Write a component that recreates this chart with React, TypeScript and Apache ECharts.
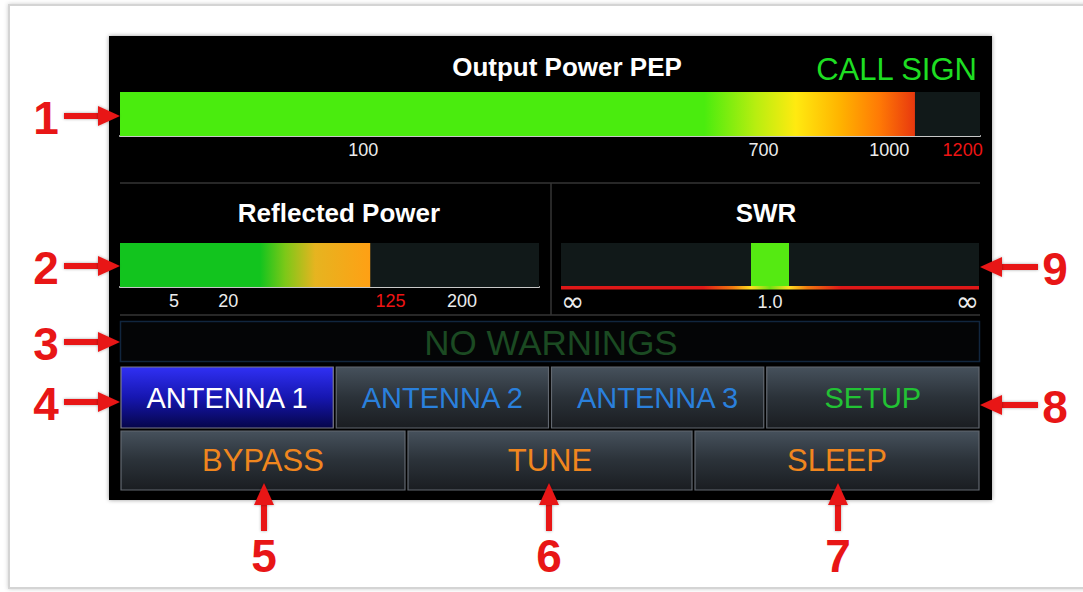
import React, { useEffect, useRef } from "react";
import * as echarts from "echarts";

// ---- data ----
const outputPowerTicks = [100, 700, 1000, 1200];
const outputPowerWarnTick = 1200;
const outputPowerMax = 1250;
const outputPower = [1068];

const reflectedTicks = [5, 20, 125, 200];
const reflectedWarnTick = 125;
const reflectedMax = 300;
const reflectedPower = [107];

const swrValue = [1.2];
const swrTickLabels = ["∞", "1.0", "∞"];

const antennaButtons = ["ANTENNA 1", "ANTENNA 2", "ANTENNA 3", "SETUP"];
const antennaColors = ["#ffffff", "#2a80dc", "#2a80dc", "#22c234"];
const actionButtons = ["BYPASS", "TUNE", "SLEEP"];
const leftCallouts = ["1", "2", "3", "4"];
const rightCallouts = ["9", "8"];
const bottomCallouts = ["5", "6", "7"];

const FONT = "Arial, 'Liberation Sans', sans-serif";
const RED = "#e81616";

function lg(stops: [number, string][]) {
  return new echarts.graphic.LinearGradient(
    0, 0, 1, 0,
    stops.map(([offset, color]) => ({ offset, color }))
  );
}
function vg(stops: [number, string][]) {
  return new echarts.graphic.LinearGradient(
    0, 0, 0, 1,
    stops.map(([offset, color]) => ({ offset, color }))
  );
}

function arrow(dir: "right" | "left" | "up", tx: number, ty: number, len: number): any[] {
  const head = 22, hw = 10, sw = 6;
  const sh = { shadowBlur: 3, shadowColor: "rgba(0,0,0,0.35)" };
  if (dir === "right") {
    return [
      { type: "rect", z: 50, shape: { x: tx - len, y: ty - sw / 2, width: len - head + 2, height: sw }, style: { fill: RED, ...sh } },
      { type: "polygon", z: 51, shape: { points: [[tx, ty], [tx - head, ty - hw], [tx - head, ty + hw]] }, style: { fill: RED, ...sh } },
    ];
  }
  if (dir === "left") {
    return [
      { type: "rect", z: 50, shape: { x: tx + head - 2, y: ty - sw / 2, width: len - head + 2, height: sw }, style: { fill: RED, ...sh } },
      { type: "polygon", z: 51, shape: { points: [[tx, ty], [tx + head, ty - hw], [tx + head, ty + hw]] }, style: { fill: RED, ...sh } },
    ];
  }
  return [
    { type: "rect", z: 50, shape: { x: tx - sw / 2, y: ty + head - 2, width: sw, height: len - head + 2 }, style: { fill: RED, ...sh } },
    { type: "polygon", z: 51, shape: { points: [[tx, ty], [tx - hw, ty + head], [tx + hw, ty + head]] }, style: { fill: RED, ...sh } },
  ];
}

function num(t: string, x: number, y: number): any {
  return {
    type: "text", z: 52,
    style: {
      text: t, x, y, fill: RED, fontFamily: FONT, fontWeight: "bold", fontSize: 46,
      align: "center", verticalAlign: "middle", shadowBlur: 3, shadowColor: "rgba(0,0,0,0.35)",
    },
  };
}

export default function App() {
  const ref = useRef<HTMLDivElement>(null);

  useEffect(() => {
    if (!ref.current) return;
    const chart = echarts.init(ref.current, undefined, { renderer: "svg" });

    const gamma = swrValue.map((s) => (s - 1) / (s + 1));

    const graphics: any[] = [];
    // outer frame
    graphics.push({
      type: "rect", z: -20,
      shape: { x: 9, y: 5, width: 1090, height: 583 },
      style: { fill: "#ffffff", stroke: "#d4d4d4", lineWidth: 2, shadowBlur: 4, shadowColor: "rgba(0,0,0,0.2)" },
    });
    // black panel
    graphics.push({
      type: "rect", z: -10,
      shape: { x: 109, y: 36, width: 883, height: 464 },
      style: { fill: "#050505", shadowBlur: 4, shadowColor: "rgba(0,0,0,0.4)" },
    });
    // separators
    const sep = { stroke: "#353535", lineWidth: 1.5 };
    graphics.push({ type: "line", z: -5, shape: { x1: 120, y1: 183, x2: 980, y2: 183 }, style: sep });
    graphics.push({ type: "line", z: -5, shape: { x1: 120, y1: 315, x2: 980, y2: 315 }, style: sep });
    graphics.push({ type: "line", z: -5, shape: { x1: 551, y1: 183, x2: 551, y2: 315 }, style: sep });

    // titles
    const title = (t: string, x: number, y: number) => ({
      type: "text", z: 20,
      style: { text: t, x, y, fill: "#ffffff", fontFamily: FONT, fontWeight: "bold", fontSize: 26, align: "center", verticalAlign: "middle" },
    });
    graphics.push(title("Output Power PEP", 567, 67));
    graphics.push(title("Reflected Power", 339, 213));
    graphics.push(title("SWR", 766, 213));
    graphics.push({
      type: "text", z: 20,
      style: { text: "CALL SIGN", x: 977, y: 69, fill: "#1ede22", fontFamily: FONT, fontSize: 31, align: "right", verticalAlign: "middle" },
    });

    // SWR red baseline
    graphics.push({
      type: "rect", z: 5,
      shape: { x: 561, y: 286, width: 418, height: 3.5 },
      style: {
        fill: lg([
          [0, "#e01818"], [0.34, "#e01818"], [0.41, "#f07810"], [0.455, "#ffe020"],
          [0.5, "#6ee012"], [0.545, "#ffe020"], [0.59, "#f07810"], [0.67, "#e01818"], [1, "#e01818"],
        ]),
      },
    });

    // warnings box
    graphics.push({
      type: "rect", z: 5,
      shape: { x: 120.5, y: 321.5, width: 859, height: 40 },
      style: { fill: "#040506", stroke: "#11263e", lineWidth: 1.5 },
    });
    graphics.push({
      type: "text", z: 20,
      style: { text: "NO WARNINGS", x: 551, y: 342, fill: "#1b4a22", fontFamily: FONT, fontSize: 35, align: "center", verticalAlign: "middle" },
    });

    // buttons row 1
    const r1w = (858 - 3 * 3) / 4;
    antennaButtons.forEach((t, i) => {
      const x = 121 + i * (r1w + 3);
      const active = i === 0;
      graphics.push({
        type: "rect", z: 5,
        shape: { x, y: 367, width: r1w, height: 61 },
        style: {
          fill: active
            ? vg([[0, "#3030f4"], [0.5, "#1616b0"], [1, "#05054a"]])
            : vg([[0, "#46515c"], [0.5, "#2b3239"], [1, "#1a1d21"]]),
          stroke: active ? "#7d7d8a" : "#626870",
          lineWidth: 1.2,
        },
      });
      graphics.push({
        type: "text", z: 20,
        style: { text: t, x: x + r1w / 2, y: 398, fill: antennaColors[i], fontFamily: FONT, fontSize: 29, align: "center", verticalAlign: "middle" },
      });
    });
    // buttons row 2
    const r2w = (858 - 2 * 3) / 3;
    actionButtons.forEach((t, i) => {
      const x = 121 + i * (r2w + 3);
      graphics.push({
        type: "rect", z: 5,
        shape: { x, y: 431, width: r2w, height: 59 },
        style: { fill: vg([[0, "#46515c"], [0.5, "#2b3239"], [1, "#1a1d21"]]), stroke: "#626870", lineWidth: 1.2 },
      });
      graphics.push({
        type: "text", z: 20,
        style: { text: t, x: x + r2w / 2, y: 460, fill: "#f0861e", fontFamily: FONT, fontSize: 31, align: "center", verticalAlign: "middle" },
      });
    });

    // callouts
    const leftY = [116, 266, 342, 402];
    leftCallouts.forEach((n, i) => {
      graphics.push(...arrow("right", 120, leftY[i], 56));
      graphics.push(num(n, 46, leftY[i] + 2));
    });
    const rightY = [267, 405];
    rightCallouts.forEach((n, i) => {
      graphics.push(...arrow("left", 980, rightY[i], 58));
      graphics.push(num(n, 1055, rightY[i] + 2));
    });
    const bottomX = [264, 549, 838];
    bottomCallouts.forEach((n, i) => {
      graphics.push(...arrow("up", bottomX[i], 483, 48));
      graphics.push(num(n, bottomX[i], 556));
    });

    const labelBase = { fontFamily: FONT, fontSize: 18, margin: 5 };

    const option: any = {
      animation: false,
      backgroundColor: "#ffffff",
      grid: [
        { left: 120, top: 92, width: 860, height: 44 },
        { left: 120, top: 243, width: 419, height: 44 },
        { left: 561, top: 243, width: 418, height: 44 },
      ],
      xAxis: [
        {
          gridIndex: 0, type: "value", min: 0, max: Math.sqrt(outputPowerMax),
          axisLine: { show: true, lineStyle: { color: "#c8c8c8", width: 2 } },
          axisTick: { show: false }, splitLine: { show: false },
          axisLabel: {
            ...labelBase,
            customValues: outputPowerTicks.map((v) => Math.sqrt(v)),
            formatter: (v: number) => String(Math.round(v * v)),
            color: (v: any) => (Math.round(Number(v) * Number(v)) === outputPowerWarnTick ? "#ee1414" : "#ececec"),
          },
        },
        {
          gridIndex: 1, type: "value", min: 0, max: Math.sqrt(reflectedMax),
          axisLine: { show: true, lineStyle: { color: "#c8c8c8", width: 2 } },
          axisTick: { show: false }, splitLine: { show: false },
          axisLabel: {
            ...labelBase,
            customValues: reflectedTicks.map((v) => Math.sqrt(v)),
            formatter: (v: number) => String(Math.round(v * v)),
            color: (v: any) => (Math.round(Number(v) * Number(v)) === reflectedWarnTick ? "#ee1414" : "#ececec"),
          },
        },
        {
          gridIndex: 2, type: "value", min: -1, max: 1,
          axisLine: { show: false }, axisTick: { show: false }, splitLine: { show: false },
          axisLabel: {
            ...labelBase,
            margin: 6,
            color: "#ececec",
            customValues: [-1, 0, 1],
            alignMinLabel: "left",
            alignMaxLabel: "right",
            formatter: (v: number) => {
              const i = Number(v) < -0.5 ? 0 : Number(v) > 0.5 ? 2 : 1;
              return i === 1 ? swrTickLabels[1] : "{inf|" + swrTickLabels[i] + "}";
            },
            rich: { inf: { fontSize: 28, color: "#ececec", fontFamily: "DejaVu Sans", lineHeight: 16 } },
          },
        },
      ],
      yAxis: [
        { gridIndex: 0, type: "category", data: ["PEP"], show: false },
        { gridIndex: 1, type: "category", data: ["REF"], show: false },
        { gridIndex: 2, type: "category", data: ["SWR"], show: false },
      ],
      graphic: { elements: graphics },
      series: [
        {
          type: "bar", xAxisIndex: 0, yAxisIndex: 0, barWidth: "100%",
          data: outputPower.map((v) => Math.sqrt(v)),
          showBackground: true, backgroundStyle: { color: "#111919" },
          itemStyle: {
            color: lg([
              [0, "#4aec0e"], [0.735, "#4aec0e"], [0.8, "#b8ee10"], [0.85, "#ffea10"],
              [0.905, "#ffb400"], [0.955, "#ff7a05"], [1, "#e8380e"],
            ]),
          },
        },
        {
          type: "bar", xAxisIndex: 1, yAxisIndex: 1, barWidth: "100%",
          data: reflectedPower.map((v) => Math.sqrt(v)),
          showBackground: true, backgroundStyle: { color: "#111919" },
          itemStyle: {
            color: lg([
              [0, "#12c41e"], [0.56, "#12c41e"], [0.66, "#7cc818"], [0.78, "#e6b420"], [1, "#ffa014"],
            ]),
          },
        },
        {
          type: "bar", xAxisIndex: 2, yAxisIndex: 2, barWidth: "100%", barGap: "-100%",
          data: gamma,
          showBackground: true, backgroundStyle: { color: "#111919" },
          itemStyle: { color: "#55ea12" },
        },
        {
          type: "bar", xAxisIndex: 2, yAxisIndex: 2, barWidth: "100%", barGap: "-100%",
          data: gamma.map((g) => -g),
          itemStyle: { color: "#55ea12" },
        },
      ],
    };

    chart.setOption(option);
    return () => chart.dispose();
  }, []);

  return (
    <div
      ref={ref}
      style={{ position: "fixed", left: 0, top: 0, width: 1083, height: 592 }}
    />
  );
}
